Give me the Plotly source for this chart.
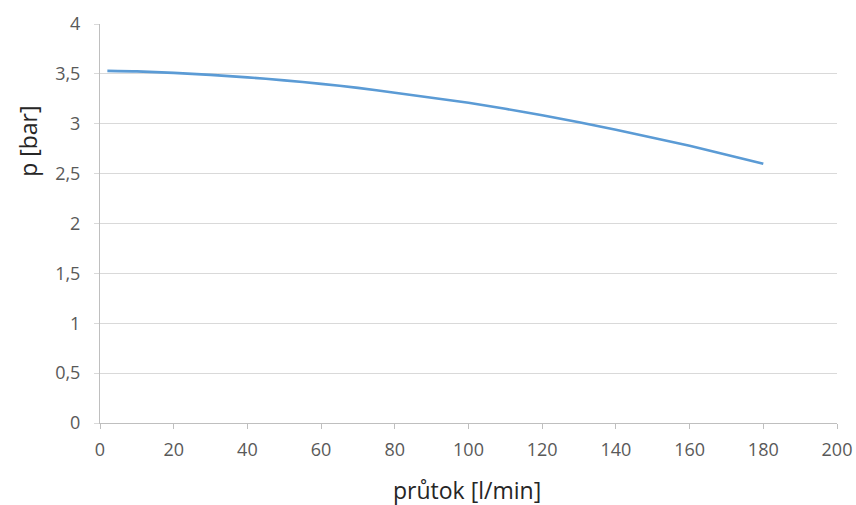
import plotly.graph_objects as go

# Pump characteristic: pressure vs. flow rate
flow_lpm = [2, 10, 20, 30, 40, 50, 60, 70, 80, 90, 100, 110, 120, 130, 140, 150, 160, 170, 180]
pressure_bar = [3.53, 3.525, 3.51, 3.49, 3.465, 3.435, 3.40, 3.36, 3.31, 3.26, 3.21, 3.15, 3.085, 3.015, 2.94, 2.86, 2.78, 2.69, 2.60]

x_ticks = [0, 20, 40, 60, 80, 100, 120, 140, 160, 180, 200]
y_ticks = [0, 0.5, 1, 1.5, 2, 2.5, 3, 3.5, 4]
y_tick_text = ["0", "0,5", "1", "1,5", "2", "2,5", "3", "3,5", "4"]

FONT = "Open Sans"
GRID = "#d9d9d9"
TICK_COLOR = "#595959"

fig = go.Figure()
fig.add_trace(go.Scatter(
    x=flow_lpm, y=pressure_bar, mode="lines",
    line=dict(color="#5b9bd5", width=2.6, shape="spline", smoothing=0.6),
    showlegend=False, hoverinfo="skip",
))

fig.update_layout(
    width=856, height=505,
    margin=dict(l=100, r=19, t=24, b=81.5),
    paper_bgcolor="white", plot_bgcolor="white",
    font=dict(family=FONT, color=TICK_COLOR),
)

fig.update_xaxes(
    range=[0, 200], tickvals=x_ticks, automargin=False,
    showgrid=False, zeroline=False,
    showline=True, linecolor="#bfbfbf", linewidth=1,
    ticks="outside", ticklen=5, tickcolor="#bfbfbf",
    tickfont=dict(size=18, color=TICK_COLOR, family=FONT),
    ticklabelstandoff=5,
)
fig.update_yaxes(
    range=[0, 4], tickvals=y_ticks, ticktext=y_tick_text, automargin=False,
    showgrid=True, gridcolor=GRID, gridwidth=1, zeroline=False,
    showline=True, linecolor="#bfbfbf", linewidth=1,
    ticks="outside", ticklen=5, tickcolor=GRID,
    tickfont=dict(size=18, color=TICK_COLOR, family=FONT),
    ticklabelstandoff=10,
)

# Axis titles
fig.add_annotation(
    text="průtok [l/min]", xref="paper", yref="paper",
    x=(467 - 100) / 737, y=-(491 - 423.5) / 399.5,
    xanchor="center", yanchor="middle", showarrow=False,
    font=dict(size=23, color="#262626", family=FONT),
)
fig.add_annotation(
    text="p [bar]", xref="paper", yref="paper",
    x=-(100 - 28) / 737, y=(423.5 - 142) / 399.5,
    xanchor="center", yanchor="middle", showarrow=False, textangle=-90,
    font=dict(size=23, color="#262626", family=FONT),
)

fig.write_html("out.html")
